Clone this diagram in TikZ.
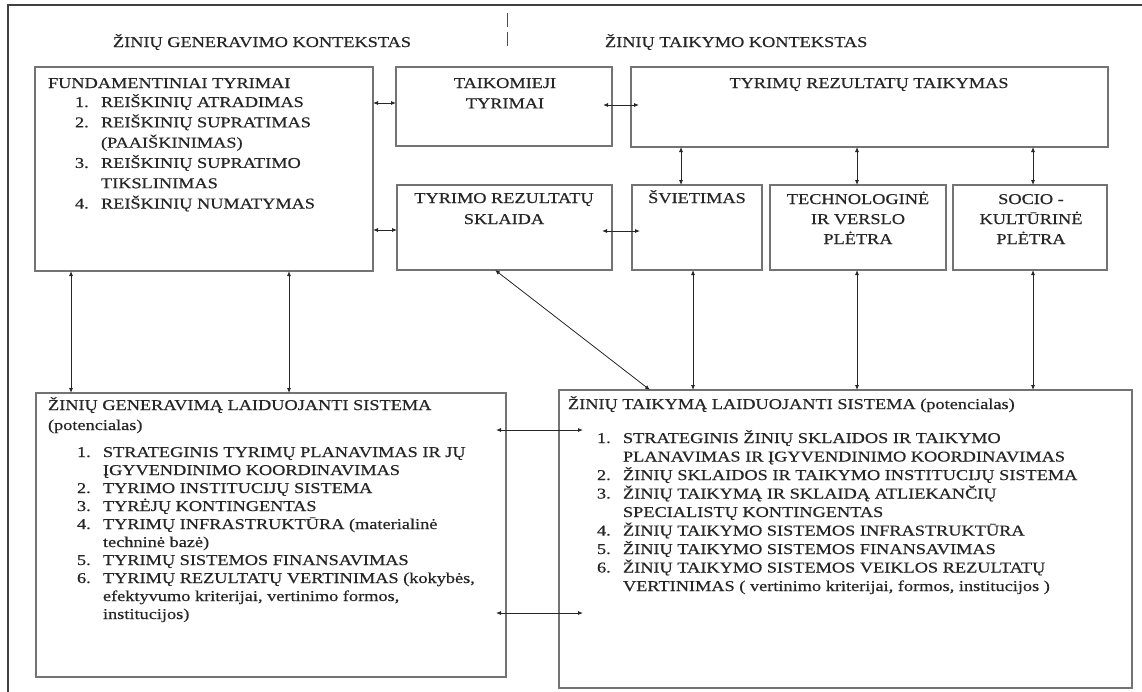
\documentclass[tikz,border=0pt]{standalone}
\usepackage{fontspec}
\setmainfont{Liberation Serif}[FakeStretch=1.22,FakeBold=0.5]
\usetikzlibrary{arrows.meta,calc}
\newcommand\bigfnt{\fontsize{15}{18.5}\selectfont}
\newcommand\leftfnt{\fontsize{15}{18}\selectfont}
\newcommand\fundfnt{\fontsize{15}{20.3}\selectfont}
\newcommand\rfnt{\fontsize{15}{20}\selectfont}
\newcommand\midfnt{\fontsize{15}{21}\selectfont}
\newcommand\num[1]{\makebox[26pt][l]{#1}}
\newcommand\ind{\hspace*{26pt}}
\begin{document}
\begin{tikzpicture}[x=1pt,y=-1pt,
  box/.style={draw=black!55, line width=1.3pt, inner sep=0pt, outer sep=0pt, anchor=north west},
  ar/.style={{Latex[length=5pt,width=4pt]}-{Latex[length=5pt,width=4pt]}, line width=0.8pt, draw=black!85},
  txt/.style={inner sep=0pt, outer sep=0pt, text=black!85}]
\useasboundingbox (0,0) rectangle (1142,691);
% outer frame
\coordinate (fr1) at (8,700);
\coordinate (fr2) at (8,5);
\coordinate (fr3) at (1160,5);
\draw[black!75, line width=1.4pt] (fr1) -- (fr2) -- (fr3);
% divider
\coordinate (dv1) at (507,13);
\coordinate (dv2) at (507,46);
\draw[black!70, line width=0.8pt, dash pattern=on 14pt off 5pt] (dv1) -- (dv2);
% headers
\node[txt, anchor=base, font=\bigfnt] (h1) at (262,47) {ŽINIŲ GENERAVIMO KONTEKSTAS};
\node[txt, anchor=base west, font=\bigfnt] (h2) at (605,47) {ŽINIŲ TAIKYMO KONTEKSTAS};
% boxes
\node[box, minimum width=338pt, minimum height=204pt] (fund) at (35,67) {};
\node[box, minimum width=216pt, minimum height=79pt] (taik) at (396,67) {};
\node[box, minimum width=477pt, minimum height=80pt] (taikym) at (631,67) {};
\node[box, minimum width=215pt, minimum height=85pt] (skl) at (397,185) {};
\node[box, minimum width=130pt, minimum height=85pt] (svi) at (632,185) {};
\node[box, minimum width=176pt, minimum height=85pt] (tech) at (770,185) {};
\node[box, minimum width=154pt, minimum height=85pt] (soc) at (953,185) {};
\node[box, minimum width=470pt, minimum height=284pt] (bl) at (36,393) {};
\node[box, minimum width=573pt, minimum height=298pt] (br) at (559,390) {};
% texts top
\node[txt, anchor=base west, font=\fundfnt] (fundt) at (48,88) {FUNDAMENTINIAI TYRIMAI};
\node[txt, anchor=base west, font=\fundfnt] (fundl) at (75,107) {\begin{tabular}[t]{@{}l@{}}
\num{1.}REIŠKINIŲ ATRADIMAS\\
\num{2.}REIŠKINIŲ SUPRATIMAS\\
\ind(PAAIŠKINIMAS)\\
\num{3.}REIŠKINIŲ SUPRATIMO\\
\ind TIKSLINIMAS\\
\num{4.}REIŠKINIŲ NUMATYMAS
\end{tabular}};
\node[txt, anchor=base, font=\fundfnt] (taikt) at (505,88) {\begin{tabular}[t]{@{}c@{}}TAIKOMIEJI\\TYRIMAI\end{tabular}};
\node[txt, anchor=base, font=\fundfnt] (taikymt) at (869,88) {TYRIMŲ REZULTATŲ TAIKYMAS};
\node[txt, anchor=base, font=\midfnt] (sklt) at (504,203) {\begin{tabular}[t]{@{}c@{}}TYRIMO REZULTATŲ\\SKLAIDA\end{tabular}};
\node[txt, anchor=base, font=\midfnt] (svit) at (697,203) {ŠVIETIMAS};
\node[txt, anchor=base, font=\rfnt] (techt) at (858,204) {\begin{tabular}[t]{@{}c@{}}TECHNOLOGINĖ\\IR VERSLO\\PLĖTRA\end{tabular}};
\node[txt, anchor=base, font=\rfnt] (soct) at (1031,204) {\begin{tabular}[t]{@{}c@{}}SOCIO -\\KULTŪRINĖ\\PLĖTRA\end{tabular}};
% bottom left texts
\node[txt, anchor=base west, font=\fontsize{15}{20}\selectfont] (blt) at (48,410) {\begin{tabular}[t]{@{}l@{}}ŽINIŲ GENERAVIMĄ LAIDUOJANTI SISTEMA\\(potencialas)\end{tabular}};
\node[txt, anchor=base west, font=\leftfnt] (bll) at (77,457) {\begin{tabular}[t]{@{}l@{}}
\num{1.}STRATEGINIS TYRIMŲ PLANAVIMAS IR JŲ\\
\ind ĮGYVENDINIMO KOORDINAVIMAS\\
\num{2.}TYRIMO INSTITUCIJŲ SISTEMA\\
\num{3.}TYRĖJŲ KONTINGENTAS\\
\num{4.}TYRIMŲ INFRASTRUKTŪRA (materialinė\\
\ind techninė bazė)\\
\num{5.}TYRIMŲ SISTEMOS FINANSAVIMAS\\
\num{6.}TYRIMŲ REZULTATŲ VERTINIMAS (kokybės,\\
\ind efektyvumo kriterijai, vertinimo formos,\\
\ind institucijos)
\end{tabular}};
% bottom right texts
\node[txt, anchor=base west, font=\bigfnt] (brt) at (568,409) {ŽINIŲ TAIKYMĄ LAIDUOJANTI SISTEMA (potencialas)};
\node[txt, anchor=base west, font=\bigfnt] (brl) at (597,443) {\begin{tabular}[t]{@{}l@{}}
\num{1.}STRATEGINIS ŽINIŲ SKLAIDOS IR TAIKYMO\\
\ind PLANAVIMAS IR ĮGYVENDINIMO KOORDINAVIMAS\\
\num{2.}ŽINIŲ SKLAIDOS IR TAIKYMO INSTITUCIJŲ SISTEMA\\
\num{3.}ŽINIŲ TAIKYMĄ IR SKLAIDĄ ATLIEKANČIŲ\\
\ind SPECIALISTŲ KONTINGENTAS\\
\num{4.}ŽINIŲ TAIKYMO SISTEMOS INFRASTRUKTŪRA\\
\num{5.}ŽINIŲ TAIKYMO SISTEMOS FINANSAVIMAS\\
\num{6.}ŽINIŲ TAIKYMO SISTEMOS VEIKLOS REZULTATŲ\\
\ind VERTINIMAS ( vertinimo kriterijai, formos, institucijos )
\end{tabular}};
% connectors
\draw[ar] ($(fund.north east)+(0,36)$) -- ($(taik.north west)+(0,36)$);
\draw[ar] ($(fund.north east)+(0,163)$) -- ($(skl.north west)+(0,45)$);
\draw[ar] ($(taik.north east)+(-9,38)$) -- ($(taikym.north west)+(8,38)$);
\draw[ar] ($(skl.north east)+(-10,46)$) -- ($(svi.north west)+(8,46)$);
\draw[ar] ($(taikym.south west)+(50,0)$) -- ($(svi.north west)+(49,0)$);
\draw[ar] ($(taikym.south west)+(226,0)$) -- ($(tech.north west)+(87,0)$);
\draw[ar] ($(taikym.south west)+(402,0)$) -- ($(soc.north west)+(80,0)$);
\draw[ar] ($(svi.south west)+(61,0)$) -- ($(br.north west)+(134,0)$);
\draw[ar] ($(tech.south west)+(87,0)$) -- ($(br.north west)+(298,0)$);
\draw[ar] ($(soc.south west)+(80,0)$) -- ($(br.north west)+(474,0)$);
\draw[ar] ($(skl.south west)+(98,0)$) -- ($(br.north west)+(91,0)$);
\draw[ar] ($(fund.south west)+(36,0)$) -- ($(bl.north west)+(35,0)$);
\draw[ar] ($(fund.south west)+(254,0)$) -- ($(bl.north west)+(253,0)$);
\draw[ar] ($(bl.north east)+(-10,37)$) -- ($(br.north west)+(24,40)$);
\draw[ar] ($(bl.north east)+(-10,220)$) -- ($(br.north west)+(24,223)$);
\end{tikzpicture}
\end{document}
